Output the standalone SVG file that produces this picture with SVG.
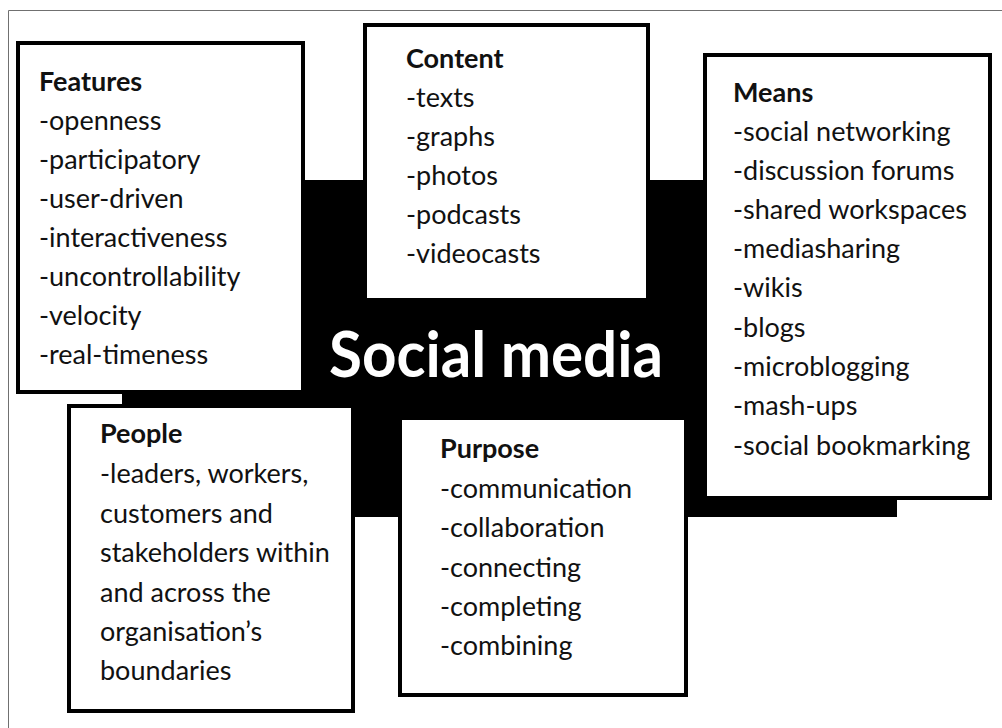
<svg xmlns="http://www.w3.org/2000/svg" width="1002" height="728" viewBox="0 0 1002 728">
  <style>
    .box { fill: #ffffff; stroke: #000000; stroke-width: 4; }
    .t { font-family: Lato, "Liberation Sans", sans-serif; font-size: 27px; fill: #111111; }
    .h { font-weight: bold; }
    .title { font-family: Lato, "Liberation Sans", sans-serif; font-size: 64px; font-weight: bold; fill: #ffffff; }
  </style>
  <rect width="1002" height="728" fill="#ffffff"/>
  <!-- frame lines (top and left) -->
  <path d="M8.5,728 V10.5 H1002" fill="none" stroke="#707070" stroke-width="1"/>

  <!-- central band with the title -->
  <g id="core">
    <rect x="122" y="180" width="775" height="337" fill="#000000"/>
    <text class="title" x="329" y="377" textLength="334" lengthAdjust="spacingAndGlyphs">Social media</text>
  </g>

  <g id="features">
    <rect class="box" x="18" y="43" width="285" height="349"/>
    <text class="t">
      <tspan class="h" x="39" y="91">Features</tspan>
      <tspan x="39" y="130">-openness</tspan>
      <tspan x="39" y="169">-participatory</tspan>
      <tspan x="39" y="208">-user-driven</tspan>
      <tspan x="39" y="247">-interactiveness</tspan>
      <tspan x="39" y="286">-uncontrollability</tspan>
      <tspan x="39" y="325">-velocity</tspan>
      <tspan x="39" y="364">-real-timeness</tspan>
    </text>
  </g>

  <g id="content">
    <rect class="box" x="365" y="25" width="283" height="275"/>
    <text class="t">
      <tspan class="h" x="406" y="68">Content</tspan>
      <tspan x="406" y="107">-texts</tspan>
      <tspan x="406" y="146">-graphs</tspan>
      <tspan x="406" y="185">-photos</tspan>
      <tspan x="406" y="224">-podcasts</tspan>
      <tspan x="406" y="263">-videocasts</tspan>
    </text>
  </g>

  <g id="means">
    <rect class="box" x="705" y="55" width="285" height="443"/>
    <text class="t">
      <tspan class="h" x="733" y="102">Means</tspan>
      <tspan x="733" y="141">-social networking</tspan>
      <tspan x="733" y="180">-discussion forums</tspan>
      <tspan x="733" y="219">-shared workspaces</tspan>
      <tspan x="733" y="258">-mediasharing</tspan>
      <tspan x="733" y="297">-wikis</tspan>
      <tspan x="733" y="337">-blogs</tspan>
      <tspan x="733" y="376">-microblogging</tspan>
      <tspan x="733" y="415">-mash-ups</tspan>
      <tspan x="733" y="455">-social bookmarking</tspan>
    </text>
  </g>

  <g id="people">
    <rect class="box" x="69" y="406" width="284" height="305"/>
    <text class="t">
      <tspan class="h" x="100" y="443">People</tspan>
      <tspan x="100" y="483">-leaders, workers,</tspan>
      <tspan x="100" y="523">customers and</tspan>
      <tspan x="100" y="562">stakeholders within</tspan>
      <tspan x="100" y="602">and across the</tspan>
      <tspan x="100" y="641">organisation’s</tspan>
      <tspan x="100" y="680">boundaries</tspan>
    </text>
  </g>

  <g id="purpose">
    <rect class="box" x="400" y="418" width="286" height="277"/>
    <text class="t">
      <tspan class="h" x="440" y="458">Purpose</tspan>
      <tspan x="440" y="498">-communication</tspan>
      <tspan x="440" y="537">-collaboration</tspan>
      <tspan x="440" y="577">-connecting</tspan>
      <tspan x="440" y="616">-completing</tspan>
      <tspan x="440" y="655">-combining</tspan>
    </text>
  </g>
</svg>
